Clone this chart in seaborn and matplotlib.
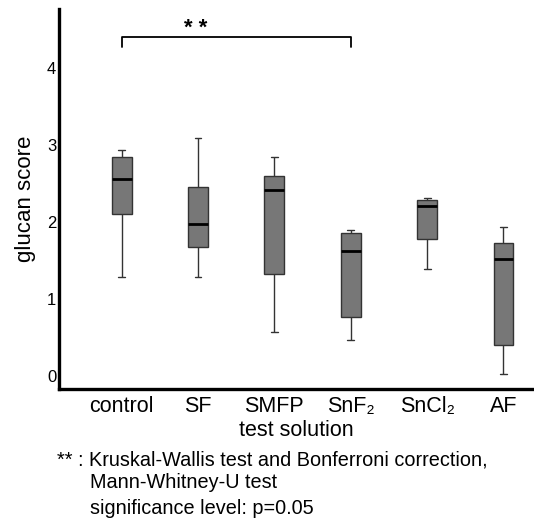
import matplotlib
matplotlib.use("Agg")
import matplotlib.pyplot as plt
import seaborn as sns
import pandas as pd

categories = ["control", "SF", "SMFP", "SnF\u2082", "SnCl\u2082", "AF"]
# five-number summaries: min, q1, median, q3, max
v_min = [1.28, 1.29, 0.57, 0.47, 1.39, 0.02]
v_q1 = [2.10, 1.67, 1.32, 0.77, 1.78, 0.40]
v_med = [2.56, 1.97, 2.42, 1.62, 2.21, 1.52]
v_q3 = [2.84, 2.46, 2.60, 1.86, 2.28, 1.73]
v_max = [2.94, 3.09, 2.84, 1.90, 2.31, 1.93]
y_ticks = [0, 1, 2, 3, 4]

rows = []
for i, c in enumerate(categories):
    for v in (v_min[i], v_q1[i], v_med[i], v_q3[i], v_max[i]):
        rows.append({"test solution": c, "glucan score": v})
df = pd.DataFrame(rows)

sns.set_style("white")
plt.rcParams["font.family"] = ["Liberation Sans", "DejaVu Sans"]
plt.rcParams["text.color"] = "black"
plt.rcParams["axes.labelcolor"] = "black"
plt.rcParams["xtick.color"] = "black"
plt.rcParams["ytick.color"] = "black"

fig = plt.figure(figsize=(5.34, 5.19), dpi=100)
ax = fig.add_axes([0.1105, 0.2505, 0.8895, 0.7325])

sns.boxplot(data=df, x="test solution", y="glucan score", order=categories,
            color="#777777", width=0.26, whis=1.5, linewidth=1.0,
            linecolor="#333333", saturation=1, ax=ax,
            medianprops=dict(color="black", linewidth=2.0),
            whiskerprops=dict(color="#333333", linewidth=1.0),
            capprops=dict(color="#333333", linewidth=1.0),
            capwidths=0.09)

ax.set_xlim(-0.82, 5.4)
ax.set_ylim(-0.17, 4.77)
ax.set_yticks(y_ticks)
ax.set_yticklabels([str(t) for t in y_ticks], fontsize=12)
ax.tick_params(axis="both", length=0, colors="black")
ax.tick_params(axis="y", pad=2)
ax.tick_params(axis="x", pad=5, labelsize=15.5)
for s in ["top", "right"]:
    ax.spines[s].set_visible(False)
for s in ["left", "bottom"]:
    ax.spines[s].set_linewidth(2.4)
    ax.spines[s].set_color("black")

ax.set_xlabel("test solution", fontsize=15.5, labelpad=2, color="black")
ax.set_ylabel("glucan score", fontsize=16, labelpad=8, color="black")

# significance bracket between control and SnF2
x0, x1 = 0, 3
yb, yt = 4.28, 4.41
ax.plot([x0, x0, x1, x1], [yb, yt, yt, yb], color="black", lw=1.3, clip_on=False)
ax.text(0.97, 4.52, "* *", ha="center", va="center", fontsize=16,
        fontweight="bold", color="black")

fig.text(57 / 534, 1 - 460 / 519,
         "** : Kruskal-Wallis test and Bonferroni correction,",
         ha="left", va="center", fontsize=14.3)
fig.text(90 / 534, 1 - 483 / 519, "Mann-Whitney-U test",
         ha="left", va="center", fontsize=14.3)
fig.text(90 / 534, 1 - 508 / 519, "significance level: p=0.05",
         ha="left", va="center", fontsize=14.3)

fig.savefig("out.png", dpi=100)
